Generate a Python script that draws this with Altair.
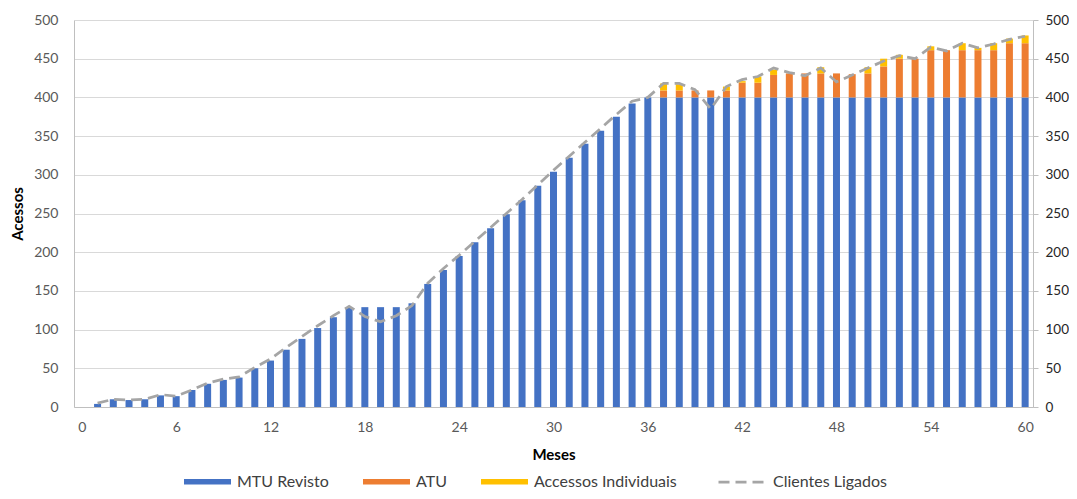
import altair as alt
import pandas as pd

months = list(range(1, 61))

mtu_revisto = [4, 10, 9, 10, 15, 14, 22, 30, 35, 38,
               50, 60, 74, 88, 102, 116, 129, 129, 129, 129,
               134, 159, 177, 195, 213, 231, 249, 267, 286, 304,
               322, 340, 357, 375, 392, 400, 400, 400, 400, 400,
               400, 400, 400, 400, 400, 400, 400, 400, 400, 400,
               400, 400, 400, 400, 400, 400, 400, 400, 400, 400]

atu = [0] * 36 + [9, 9, 9, 9, 9, 19, 19, 29, 31, 31,
                  31, 31, 30, 31, 40, 50, 50, 61, 61, 61,
                  61, 61, 70, 70]

acessos_individuais = [0] * 36 + [9, 8, 0, 0, 5, 2, 8, 7, 0, 0,
                                  8, 0, 0, 8, 10, 5, 0, 5, 0, 9,
                                  3, 9, 6, 10]

clientes_ligados = [5, 10, 9, 10, 16, 14, 22, 31, 36, 39,
                    51, 62, 77, 91, 105, 118, 130, 117, 110, 118,
                    131, 160, 179, 196, 214, 232, 250, 268, 287, 306,
                    324, 342, 360, 378, 395, 400, 418, 418, 410, 385,
                    414, 423, 427, 438, 432, 428, 438, 420, 429, 438,
                    447, 454, 450, 465, 460, 470, 464, 469, 475, 479]

series_names = ["MTU Revisto", "ATU", "Accessos Individuais"]
series_colors = ["#4472C4", "#ED7D31", "#FFC000"]
line_name = "Clientes Ligados"
x_ticks = list(range(0, 61, 6))
y_ticks = list(range(0, 501, 50))

rows = []
for i, m in enumerate(months):
    for k, (name, vals) in enumerate(zip(series_names, [mtu_revisto, atu, acessos_individuais])):
        rows.append({"mes": m, "serie": name, "valor": vals[i], "ordem": k})
bars_df = pd.DataFrame(rows)
line_df = pd.DataFrame({"mes": months, "valor": clientes_ligados, "serie": [line_name] * len(months)})

FONT = "Lato"
x_scale = alt.Scale(domain=[-0.5, 60.5], nice=False, zero=False, padding=0)

x_enc = alt.X("mes:Q", scale=x_scale,
              axis=alt.Axis(values=x_ticks, title="Meses", grid=False, ticks=False,
                            domainColor="#BFBFBF", domainWidth=1,
                            labelColor="#595959", labelFont=FONT, labelFontSize=14,
                            labelPadding=13, titleFont=FONT, titleFontSize=15,
                            titleFontWeight="bold", titleColor="#000000", titlePadding=13)),

bars = alt.Chart(bars_df).mark_bar(size=7).encode(
    x=x_enc[0],
    y=alt.Y("valor:Q", stack="zero",
            scale=alt.Scale(domain=[0, 500], nice=False),
            axis=alt.Axis(values=y_ticks, title="Acessos", grid=True, gridColor="#D9D9D9",
                          ticks=False, tickSize=0, domainColor="#BFBFBF",
                          labelColor="#595959", labelFont=FONT, labelFontSize=14,
                          labelPadding=16, titleFont=FONT, titleFontSize=15,
                          titleFontWeight="bold", titleColor="#000000", titlePadding=8)),
    color=alt.Color("serie:N",
                    scale=alt.Scale(domain=series_names, range=series_colors),
                    legend=alt.Legend(orient="none", legendX=110, legendY=438,
                                      direction="horizontal", title=None,
                                      symbolType="M-1,-0.12H1V0.12H-1Z", symbolSize=2209,
                                      symbolStrokeWidth=0, symbolOpacity=1,
                                      labelFont=FONT, labelFontSize=16, labelColor="#404040",
                                      labelOffset=6, columnPadding=34)),
    order=alt.Order("ordem:Q", sort="ascending"),
)

line = alt.Chart(line_df).mark_line(color="#A5A5A5", strokeWidth=2.75).encode(
    x=alt.X("mes:Q", scale=x_scale),
    y=alt.Y("valor:Q",
            scale=alt.Scale(domain=[0, 500], nice=False),
            axis=alt.Axis(orient="right", values=y_ticks, title=None, grid=False,
                          ticks=True, tickSize=5, tickColor="#BFBFBF", domainColor="#BFBFBF",
                          labelColor="#262626", labelFont=FONT, labelFontSize=13.5,
                          labelPadding=7)),
    strokeDash=alt.StrokeDash("serie:N",
                              scale=alt.Scale(domain=[line_name], range=[[11, 6]]),
                              legend=alt.Legend(orient="none", legendX=643, legendY=437,
                                                title=None, symbolType="stroke", symbolSize=2209,
                                                symbolStrokeColor="#A5A5A5", symbolStrokeWidth=2.75,
                                                labelFont=FONT, labelFontSize=16,
                                                labelColor="#404040", labelOffset=6)),
)

chart = alt.layer(bars, line).resolve_scale(y="independent").properties(
    width=959, height=387,
    autosize=alt.AutoSizeParams(type="none"),
    padding={"left": 66, "top": 12, "right": 36, "bottom": 84},
).configure_view(stroke="transparent")

chart.save("out.html", embed_options={"renderer": "svg", "actions": False})
